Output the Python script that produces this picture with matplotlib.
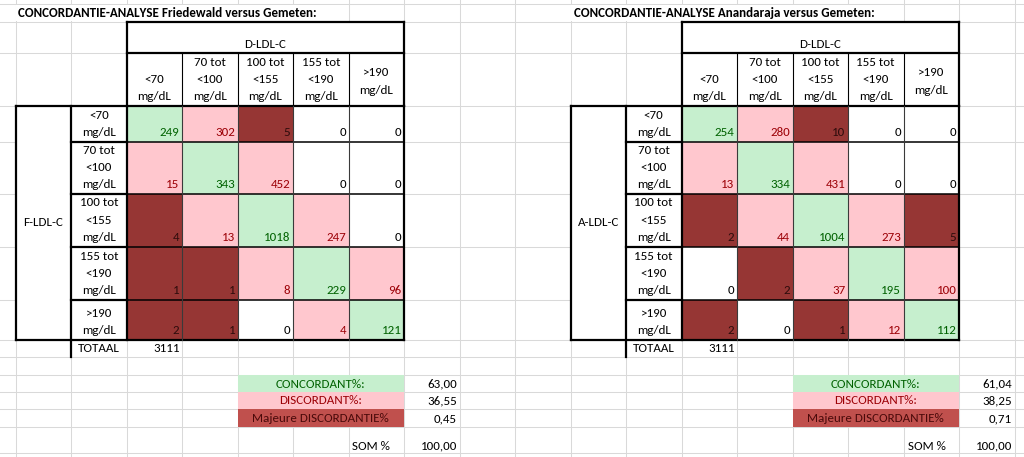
import matplotlib
matplotlib.use("Agg")
import matplotlib.pyplot as plt
from matplotlib.patches import Rectangle
from matplotlib import font_manager

# ---------------- data ----------------
titles = ["CONCORDANTIE-ANALYSE Friedewald versus Gemeten:",
          "CONCORDANTIE-ANALYSE Anandaraja versus Gemeten:"]
row_axis_labels = ["F-LDL-C", "A-LDL-C"]
col_axis_label = "D-LDL-C"
categories = ["<70\nmg/dL", "70 tot\n<100\nmg/dL", "100 tot\n<155\nmg/dL",
              "155 tot\n<190\nmg/dL", ">190\nmg/dL"]
friedewald = [[249, 302, 5, 0, 0],
              [15, 343, 452, 0, 0],
              [4, 13, 1018, 247, 0],
              [1, 1, 8, 229, 96],
              [2, 1, 0, 4, 121]]
anandaraja = [[254, 280, 10, 0, 0],
              [13, 334, 431, 0, 0],
              [2, 44, 1004, 273, 5],
              [0, 2, 37, 195, 100],
              [2, 0, 1, 12, 112]]
totals = [3111, 3111]
summary_labels = ["CONCORDANT%:", "DISCORDANT%:", "Majeure DISCORDANTIE%"]
friedewald_summary = ["63,00", "36,55", "0,45"]
anandaraja_summary = ["61,04", "38,25", "0,71"]
som_label = "SOM %"
som_values = ["100,00", "100,00"]

# ---------------- style ----------------
names = {f.name for f in font_manager.fontManager.ttflist}
if "Carlito" in names:
    FAMILY, FS = ["Carlito", "DejaVu Sans"], 9.4
elif "Liberation Sans Narrow" in names:
    FAMILY, FS = ["Liberation Sans Narrow", "DejaVu Sans"], 9.0
else:
    FAMILY, FS = ["Roboto", "DejaVu Sans"], 8.2
GRID = "#D9D9D9"
GREEN_F, GREEN_T = "#C6EFCE", "#006100"
PINK_F, PINK_T = "#FFC7CE", "#9C0006"
DARK_F, DARK_T = "#963634", "#2E0C0C"
MAJ_F, MAJ_T = "#C0504D", "#4A0A0A"
THICK = 1.6
THIN = 0.8

W, H = 1024, 457
fig = plt.figure(figsize=(W / 100, H / 100), dpi=100)
ax = fig.add_axes([0, 0, 1, 1])
ax.set_xlim(0, W)
ax.set_ylim(H, 0)
ax.axis("off")

x0, cw = 15.5, 55.5
colx = [x0 + cw * k for k in range(19)]
rowy = [4, 22, 53, 106, 142, 194, 247, 300, 340, 357, 375, 392, 409, 427, 453]
body_rows = [106, 142, 194, 247, 300, 340]
LS = 17.4  # line spacing


def txt(x, y, s, ha="center", color="black", weight="normal", z=10):
    ax.text(x, y, s, ha=ha, va="center", color=color, fontsize=FS,
            family=FAMILY, fontweight=weight, zorder=z)


def lines_bottom(xc, bottom, s, ha="center", color="black"):
    parts = s.split("\n")
    for k, p in enumerate(reversed(parts)):
        txt(xc, bottom - 9.2 - LS * k, p, ha=ha, color=color)


def rect(x1, y1, x2, y2, fc, z=3):
    ax.add_patch(Rectangle((x1, y1), x2 - x1, y2 - y1, facecolor=fc,
                           edgecolor="none", zorder=z))


def hline(y, xa, xb, lw, color="black", z=6):
    ax.plot([xa, xb], [y, y], color=color, lw=lw, zorder=z,
            solid_capstyle="projecting")


def vline(x, ya, yb, lw, color="black", z=6):
    ax.plot([x, x], [ya, yb], color=color, lw=lw, zorder=z,
            solid_capstyle="projecting")


# gridlines
for x in colx:
    vline(x, 0, H, 0.75, GRID, z=1)
for y in rowy:
    hline(y, 0, W, 0.75, GRID, z=1)


def draw_table(off, title, rlabel, matrix, total, summ, som):
    L = lambda c: colx[c] + off  # noqa
    rect(L(0) + 0.6, 4.6, L(6) - 0.6, 21.4, "white", z=2)
    txt(L(0) + 3, 13, title, ha="left", weight="bold")

    rect(L(2), 22, L(7), 106, "white", z=2)
    rect(L(0), 106, L(7), 340, "white", z=2)

    txt((L(2) + L(7)) / 2, 44.5, col_axis_label)
    for j, lab in enumerate(categories):
        xc = (L(2 + j) + L(3 + j)) / 2
        if lab.count("\n") == 1 and j == len(categories) - 1:
            p = lab.split("\n")
            txt(xc, 72.5, p[0])
            txt(xc, 90, p[1])
        else:
            lines_bottom(xc, 106, lab)

    n = len(categories)
    txt((L(0) + L(1)) / 2, 223, rlabel)
    for i, lab in enumerate(categories):
        lines_bottom((L(1) + L(2)) / 2, body_rows[i + 1], lab)
        for j in range(n):
            v = matrix[i][j]
            if v == 0:
                fc, tc = None, "black"
            elif i == j:
                fc, tc = GREEN_F, GREEN_T
            elif abs(i - j) == 1:
                fc, tc = PINK_F, PINK_T
            else:
                fc, tc = DARK_F, DARK_T
            if fc:
                rect(L(2 + j), body_rows[i], L(3 + j), body_rows[i + 1], fc)
            txt(L(3 + j) - 2.5, body_rows[i + 1] - 9.2, str(v), ha="right",
                color=tc)

    txt((L(1) + L(2)) / 2, 349, "TOTAAL")
    txt(L(3) - 2.5, 349, str(total), ha="right")

    hline(22, L(2), L(7), THICK)
    hline(53, L(2), L(7), THICK)
    vline(L(2), 22, 106, THICK)
    vline(L(7), 22, 106, THICK)
    for c in range(3, 7):
        vline(L(c), 53, 106, THIN)
    hline(106, L(0), L(7), THICK)
    hline(340, L(0), L(7), THICK)
    vline(L(0), 106, 340, THICK)
    vline(L(1), 106, 357, THICK)
    vline(L(2), 106, 340, THICK)
    vline(L(7), 106, 340, THICK)
    for y in body_rows[1:-1]:
        hline(y, L(1), L(2), THICK)
        hline(y, L(2), L(7), 1.1)
    for c in range(3, 7):
        vline(L(c), 106, 340, THIN, color="#3A3A3A")

    fills = [GREEN_F, PINK_F, MAJ_F]
    tcols = [GREEN_T, PINK_T, MAJ_T]
    ys = [375, 392, 409, 427]
    for k in range(3):
        rect(L(4), ys[k], L(7), ys[k + 1], fills[k])
        txt((L(4) + L(7)) / 2, (ys[k] + ys[k + 1]) / 2 + 0.5,
            summary_labels[k], color=tcols[k])
        txt(L(8) - 2.5, (ys[k] + ys[k + 1]) / 2 + 0.5, summ[k], ha="right")
    txt(L(6) + 4, 446, som_label, ha="left")
    txt(L(8) - 2.5, 446, som, ha="right")


draw_table(0, titles[0], row_axis_labels[0], friedewald, totals[0],
           friedewald_summary, som_values[0])
draw_table(555, titles[1], row_axis_labels[1], anandaraja, totals[1],
           anandaraja_summary, som_values[1])

fig.savefig("out.png", dpi=100)
